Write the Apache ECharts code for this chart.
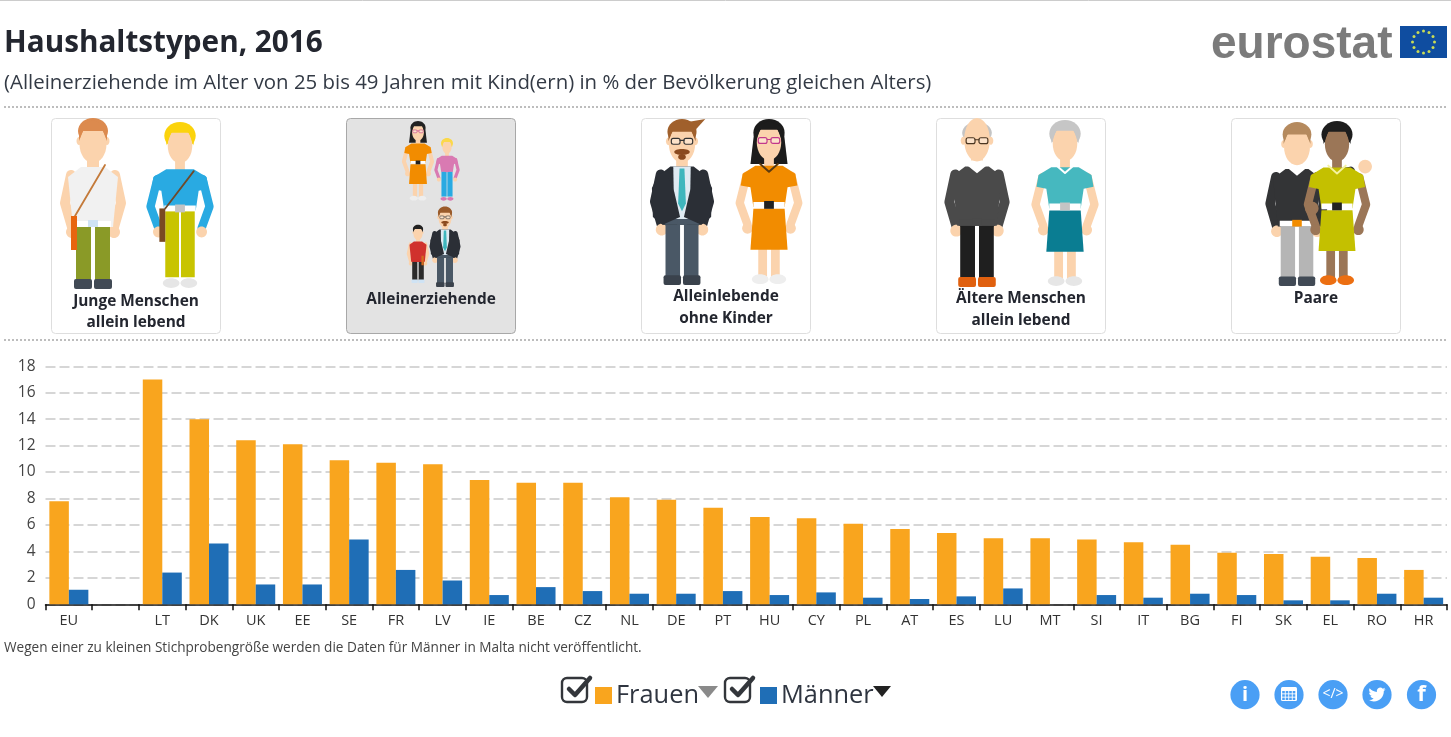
<!DOCTYPE html>
<html lang="de">
<head>
<meta charset="UTF-8">
<title>Haushaltstypen, 2016</title>
<style>
  * { margin: 0; padding: 0; }
  html, body { height: 100%; background: #fff; overflow: hidden; }
  #chart { width: 1451px; height: 737px; }
</style>
<script src="https://cdn.jsdelivr.net/npm/echarts@6/dist/echarts.min.js"></script>
</head>
<body>
<div id="chart"></div>
<script>
const categories = ['EU', '', 'LT', 'DK', 'UK', 'EE', 'SE', 'FR', 'LV', 'IE', 'BE', 'CZ', 'NL', 'DE', 'PT', 'HU', 'CY', 'PL', 'AT', 'ES', 'LU', 'MT', 'SI', 'IT', 'BG', 'FI', 'SK', 'EL', 'RO', 'HR']
const frauen = [7.8, null, 17.0, 14.0, 12.4, 12.1, 10.9, 10.7, 10.6, 9.4, 9.2, 9.2, 8.1, 7.9, 7.3, 6.6, 6.5, 6.1, 5.7, 5.4, 5.0, 5.0, 4.9, 4.7, 4.5, 3.9, 3.8, 3.6, 3.5, 2.6]
const maenner = [1.1, null, 2.4, 4.6, 1.5, 1.5, 4.9, 2.6, 1.8, 0.7, 1.3, 1.0, 0.8, 0.8, 1.0, 0.7, 0.9, 0.5, 0.4, 0.6, 1.2, null, 0.7, 0.5, 0.8, 0.7, 0.3, 0.3, 0.8, 0.5]

const titleText = 'Haushaltstypen, 2016'
const subtitleText = '(Alleinerziehende im Alter von 25 bis 49 Jahren mit Kind(ern) in % der Bevölkerung gleichen Alters)'
const footnote = 'Wegen einer zu kleinen Stichprobengröße werden die Daten für Männer in Malta nicht veröffentlicht.'
const cardLabels = [
  ['Junge Menschen', 'allein lebend'],
  ['Alleinerziehende'],
  ['Alleinlebende', 'ohne Kinder'],
  ['Ältere Menschen', 'allein lebend'],
  ['Paare']
]

const FONT = '"Open Sans", sans-serif'
const ORANGE = '#f9a51e'
const BLUE = '#1f6eb6'
const SKIN = '#fbd3ad'
const DARKSKIN = '#9b7657'

echarts.graphic.registerShape('twitterBird', echarts.graphic.extendPath('M23.95 4.57a10 10 0 0 1-2.82.77 4.96 4.96 0 0 0 2.16-2.72c-.95.55-2 .96-3.12 1.19a4.92 4.92 0 0 0-8.38 4.48C7.69 8.09 4.07 6.13 1.64 3.16a4.82 4.82 0 0 0-.67 2.48c0 1.71.87 3.21 2.19 4.1a4.9 4.9 0 0 1-2.23-.62v.06a4.92 4.92 0 0 0 3.95 4.83 5 5 0 0 1-2.21.08 4.94 4.94 0 0 0 4.6 3.42A9.87 9.87 0 0 1 0 19.54 14 14 0 0 0 7.56 21.75c9.05 0 14-7.5 14-13.98 0-.21 0-.42-.02-.63a9.94 9.94 0 0 0 2.46-2.55z', {}))

// small shape helpers for the illustrations
const rect = (x, y, width, height, fill, r) => ({ type: 'rect', shape: { x, y, width, height, r: r || 0 }, style: { fill } })
const oval = (cx, cy, rx, ry, fill) => ({ type: 'ellipse', shape: { cx, cy, rx, ry }, style: { fill } })
const poly = (points, fill) => ({ type: 'polygon', shape: { points }, style: { fill } })
const stroke = (points, color, lineWidth) => ({ type: 'polyline', shape: { points }, style: { stroke: color, lineWidth, fill: null, lineCap: 'round', lineJoin: 'round' } })
const label = (x, y, text, fontSize, fontWeight, fill, textAlign) => ({
  type: 'text', style: { x, y, text, fontSize, fontWeight, fontFamily: FONT, fill, textAlign: textAlign || 'center', textVerticalAlign: 'middle' }
})

function glasses(color) {
  return [
    { type: 'rect', shape: { x: -11, y: 19, width: 9, height: 6, r: 2 }, style: { stroke: color, lineWidth: 1.2, fill: 'rgba(255,255,255,.35)' } },
    { type: 'rect', shape: { x: 2, y: 19, width: 9, height: 6, r: 2 }, style: { stroke: color, lineWidth: 1.2, fill: 'rgba(255,255,255,.35)' } },
    stroke([[-2, 21], [2, 21]], color, 1.2)
  ]
}

function man(o) {
  const skin = o.skin || SKIN
  const parts = [
    rect(-6, 34, 12, 18, skin),
    stroke([[-22, 56], [-28, 84], [-21, 108]], o.sleeve || skin, 10),
    stroke([[22, 56], [28, 84], [21, 108]], o.sleeve || skin, 10),
    oval(-21, 113, 6, 6, skin),
    oval(21, 113, 6, 6, skin),
    rect(-17, 104, 15, 58, o.pants),
    rect(2, 104, 15, 58, o.pants),
    rect(-19, 160, 18, 10, o.shoe, 2),
    rect(1, 160, 18, 10, o.shoe, 2),
    poly([[-25, 58], [-12, 48], [12, 48], [25, 58], [20, 108], [-20, 108]], o.top),
    rect(-18, 102, 36, 6, o.belt || '#fff'),
    rect(-5, 101, 10, 7, o.buckle || o.belt || '#fff')
  ]
  if (o.collar) parts.push(poly([[-11, 46], [0, 55], [11, 46], [6, 42], [-6, 42]], '#fff'))
  if (o.tie) {
    parts.push(poly([[-9, 48], [9, 48], [8, 102], [-8, 102]], '#dfeaf2'))
    parts.push(poly([[-2.5, 50], [2.5, 50], [4, 86], [0, 94], [-4, 86]], o.tie))
    parts.push(poly([[-9, 50], [-14, 60], [-8, 74], [-2, 100], [-20, 108], [-30, 100], [-31, 70], [-24, 56]], o.top))
    parts.push(poly([[9, 50], [14, 60], [8, 74], [2, 100], [20, 108], [30, 100], [31, 70], [24, 56]], o.top))
  }
  if (o.bald) {
    parts.push(oval(0, 14, 15, 11, o.hair))
    parts.push(oval(-14, 22, 2.5, 4, skin), oval(14, 22, 2.5, 4, skin))
    parts.push(oval(0, 21, 13, 22, skin))
  } else {
    parts.push(oval(0, 12, 15, 13, o.hair))
    parts.push(oval(-14, 22, 2.5, 4, skin), oval(14, 22, 2.5, 4, skin))
    parts.push(oval(0, 25, 13.5, 19, skin))
    parts.push(poly([[-14, 22], [-14, 8], [0, 1], [14, 8], [14, 22], [10, 12], [-10, 12]], o.hair))
  }
  if (o.glasses) parts.push(...glasses(o.glasses))
  if (o.beard) parts.push(oval(0, 33, 8, 3, o.beard), oval(0, 38, 4, 3, o.beard))
  return parts.concat(o.extra || [])
}

function woman(o) {
  const skin = o.skin || SKIN
  const parts = []
  if (o.longHair) parts.push(poly([[-15, 12], [15, 12], [19, 46], [-19, 46]], o.hair))
  parts.push(rect(-5, 34, 10, 18, skin))
  parts.push(stroke([[-23, 58], [-30, 86], [-22, 108]], o.sleeve || skin, 8.5))
  parts.push(stroke([[23, 58], [30, 86], [22, 108]], o.sleeve || skin, 8.5))
  parts.push(oval(-22, 112, 5.5, 5.5, skin), oval(22, 112, 5.5, 5.5, skin))
  if (o.pants) {
    parts.push(rect(-15, 90, 14, 68, o.pants), rect(1, 90, 14, 68, o.pants))
  } else {
    parts.push(rect(-11, 120, 9, 42, skin), rect(2, 120, 9, 42, skin))
  }
  parts.push(oval(-9, 164, 8.5, 5, o.shoe), oval(9, 164, 8.5, 5, o.shoe))
  if (o.skirt) parts.push(poly([[-16, 92], [16, 92], [19, 134], [-19, 134]], o.skirt))
  parts.push(poly([[-14, 48], [14, 48], [27, 56], [29, 68], [19, 70], [16, 90], [-16, 90], [-19, 70], [-29, 68], [-27, 56]], o.top))
  parts.push(rect(-16, 85, 32, 6, o.belt || '#fff'))
  parts.push(rect(-5, 84, 10, 8, o.buckle || '#222'))
  parts.push(oval(0, 14, 16, 14, o.hair))
  parts.push(oval(0, 24, 12.5, 18, skin))
  parts.push(poly([[-14, 24], [-14, 8], [0, 2], [14, 8], [14, 24], [9, 11], [-9, 11]], o.hair))
  if (o.glasses) parts.push(...glasses(o.glasses))
  if (o.necklace) parts.push(stroke([[-9, 46], [0, 54], [9, 46]], o.necklace, 2))
  return parts.concat(o.extra || [])
}

// figure is drawn in a 170 high box, then moved and scaled into the card
function place(cx, top, h, children) {
  const s = h / 170
  return { type: 'group', x: cx, y: top, scaleX: s, scaleY: s, children }
}

function cards() {
  const out = []
  const lefts = [51.5, 346.5, 641.5, 936.5, 1231.5]
  const textY = [[302, 323], [300], [297, 319], [299, 321], [299]]
  lefts.forEach((x, i) => {
    const active = i === 1
    out.push({ type: 'rect', shape: { x, y: 118.5, width: 169, height: 215, r: 4 }, style: { fill: active ? '#e3e3e3' : '#fff', stroke: active ? '#a8a8a8' : '#dedede', lineWidth: 1 } })
  })

  // Junge Menschen
  out.push(place(93, 119, 170, man({
    hair: '#dc8a4e', top: '#f1f1f1', pants: '#8a9a27', shoe: '#414a55', buckle: '#cfe3f4',
    extra: [stroke([[-18, 97], [12, 46]], '#c47a3a', 1.8), rect(-22, 97, 6, 34, '#e8650f')]
  })))
  out.push(place(180, 122, 167, woman({
    hair: '#fbd30c', top: '#29aae2', sleeve: '#29aae2', pants: '#c8c400', shoe: '#e6e6e6', buckle: '#c4c4c4',
    extra: [stroke([[-15, 88], [14, 50]], '#6e4a2a', 1.8), rect(-21, 88, 6, 34, '#7a4a22')]
  })))

  // Alleinerziehende
  out.push(place(418, 121, 80, woman({ hair: '#222', longHair: true, top: '#f28c00', skirt: '#f28c00', shoe: '#eee', glasses: '#c2388c' })))
  out.push(place(447, 138, 63, woman({ hair: '#fbd84a', top: '#d97ab2', sleeve: '#d97ab2', pants: '#29aae2', shoe: '#d97ab2', belt: '#d97ab2', buckle: '#d97ab2' })))
  out.push(place(418, 225, 58, man({ hair: '#222', top: '#d0312d', pants: '#2b2b2b', shoe: '#cfe3f4', belt: '#d0312d', extra: [rect(10, 90, 7, 28, '#d4691e')] })))
  out.push(place(445, 207, 80, man({ hair: '#9a5b2a', top: '#2b2f36', sleeve: '#2b2f36', pants: '#4a5866', shoe: '#3a424c', tie: '#3fb6bd', belt: '#4a5866', glasses: '#333', beard: '#8b4a1e' })))

  // Alleinlebende ohne Kinder
  out.push(place(682, 120, 165, man({
    hair: '#a0602c', top: '#2b2f36', sleeve: '#2b2f36', pants: '#4a5866', shoe: '#3a424c', tie: '#3fb6bd', belt: '#4a5866', glasses: '#333', beard: '#8b4a1e',
    extra: [poly([[6, 2], [24, -1], [14, 10]], '#a0602c')]
  })))
  out.push(place(769, 119, 166, woman({ hair: '#1c1c1c', longHair: true, top: '#f28c00', skirt: '#f28c00', shoe: '#eee', glasses: '#c2388c', necklace: '#5a3a10' })))

  // Ältere Menschen
  out.push(place(977, 119, 168, man({ hair: '#c4c4c4', bald: true, top: '#4a4a4a', sleeve: '#4a4a4a', pants: '#1f1f1f', shoe: '#e0600f', collar: true, belt: '#4a4a4a', glasses: '#4a3520' })))
  out.push(place(1065, 120, 167, woman({ hair: '#c6c6c6', top: '#46b8bf', skirt: '#0a7d92', shoe: '#e6e6e6', buckle: '#c4c4c4', necklace: '#fff' })))

  // Paare
  out.push(place(1297, 123, 163, man({
    hair: '#b58a5e', top: '#333436', sleeve: '#333436', pants: '#b5b5b5', shoe: '#414a55', collar: true, buckle: '#f28c00',
    extra: [stroke([[20, 56], [56, 50]], '#333436', 9)]
  })))
  out.push(place(1337, 121, 165, woman({
    hair: '#1d1d1d', skin: DARKSKIN, top: '#c4c000', skirt: '#c4c000', shoe: '#ec6f12', necklace: '#f5f2a0',
    extra: [oval(-26, 90, 7, 7, DARKSKIN), oval(29, 47, 7, 7, SKIN)]
  })))

  cardLabels.forEach((lines, i) => {
    lines.forEach((line, j) => out.push(label(lefts[i] + 84.5, textY[i][j], line, 15.4, 'bold', '#23262f')))
  })
  return out
}

function logo() {
  const out = [
    { type: 'text', style: { x: 1211, y: 45, text: 'eurostat', fontSize: 46, fontWeight: 'bold', fontFamily: '"Liberation Sans", Arial, sans-serif', fill: '#7b7b7b', textVerticalAlign: 'middle' } },
    rect(1400, 26, 47, 32, '#0f4da0')
  ]
  for (let i = 0; i < 12; i++) {
    const a = i * Math.PI / 6
    out.push({ type: 'circle', shape: { cx: 1423.5 + 11 * Math.sin(a), cy: 42 - 11 * Math.cos(a), r: 1.5 }, style: { fill: '#c9dc55' } })
  }
  return out
}

function legendExtras() {
  const out = []
  ;[561, 724].forEach(x => {
    out.push({ type: 'rect', shape: { x: x + 1, y: 678, width: 25, height: 24, r: 5 }, style: { fill: null, stroke: '#33363b', lineWidth: 2.4 } })
    out.push(stroke([[x + 8, 689], [x + 14, 695], [x + 29, 678]], '#33363b', 4.5))
  })
  out.push(poly([[698, 686], [718, 686], [708, 698]], '#8a8a8a'))
  out.push(poly([[873, 686], [891, 686], [882, 697]], '#222'))
  return out
}

function shareIcons() {
  const out = []
  const xs = [1245, 1289, 1333, 1377, 1421.5]
  xs.forEach(x => out.push({ type: 'circle', shape: { cx: x, cy: 694.7, r: 14.6 }, style: { fill: '#4a9ff5' } }))
  out.push(label(xs[0], 695, 'i', 20, 'bold', '#fff'))
  out.push(rect(xs[1] - 8, 687, 16, 14, '#fff', 1.5))
  for (let row = 0; row < 3; row++) {
    for (let col = 0; col < 4; col++) {
      out.push(rect(xs[1] - 6.8 + col * 3.5, 691 + row * 3.3, 2.6, 2.4, '#4a9ff5'))
    }
  }
  out.push(label(xs[2], 694, '</>', 14, 'normal', '#fff'))
  out.push({ type: 'twitterBird', x: xs[3] - 8.5, y: 686, scaleX: 0.71, scaleY: 0.71, style: { fill: '#fff' } })
  out.push(label(xs[4], 695, 'f', 22, 'bold', '#fff'))
  return out
}

const separators = [107, 340].map(y => ({
  type: 'line', shape: { x1: 4, y1: y, x2: 1447, y2: y }, style: { stroke: '#bdbdbd', lineWidth: 2, lineDash: [2, 2] }
}))

const chart = echarts.init(document.getElementById('chart'))
chart.setOption({
  animation: false,
  title: [
    { text: titleText, left: 4, top: 29, padding: 0, textStyle: { fontFamily: FONT, fontSize: 29.7, fontWeight: 'bold', color: '#23262f' } },
    { text: subtitleText, left: 4, top: 73, padding: 0, textStyle: { fontFamily: FONT, fontSize: 20.4, fontWeight: 'normal', color: '#333a45' } }
  ],
  grid: { left: 45.5, right: 4, top: 366.3, bottom: 132.7 },
  legend: {
    left: 595, top: 683, padding: 0, itemWidth: 17, itemHeight: 17, itemGap: 61,
    selectedMode: false,
    textStyle: { fontFamily: FONT, fontSize: 25.4, color: '#2f3540', padding: [0, 0, 0, -1] },
    data: [{ name: 'Frauen', icon: 'rect' }, { name: 'Männer', icon: 'rect' }]
  },
  xAxis: {
    type: 'category',
    data: categories,
    axisLine: { lineStyle: { color: '#111', width: 1.5 } },
    axisTick: { show: true, length: 6, lineStyle: { color: '#111', width: 1.5 } },
    axisLabel: { interval: 0, margin: 9, fontFamily: FONT, fontSize: 14.5, color: '#333' }
  },
  yAxis: {
    type: 'value',
    min: 0,
    max: 18,
    interval: 2,
    axisLine: { show: false },
    axisTick: { show: false },
    axisLabel: { margin: 10, fontFamily: FONT, fontSize: 15.5, color: '#444', padding: [0, 0, 5, 0] },
    splitLine: { lineStyle: { color: '#c9c9c9', width: 1.6, type: [10, 4] } }
  },
  series: [
    { name: 'Frauen', type: 'bar', data: frauen, barWidth: 19.5, barGap: 0, itemStyle: { color: ORANGE } },
    { name: 'Männer', type: 'bar', data: maenner, barWidth: 19.5, barGap: 0, itemStyle: { color: BLUE } }
  ],
  graphic: {
    elements: [
      { type: 'line', shape: { x1: 0, y1: 0.5, x2: 1451, y2: 0.5 }, style: { stroke: '#ccc', lineWidth: 1 } },
      ...separators,
      ...logo(),
      ...cards(),
      label(4, 648, footnote, 13.6, 'normal', '#444', 'left'),
      ...legendExtras(),
      ...shareIcons()
    ]
  }
})
</script>
</body>
</html>
